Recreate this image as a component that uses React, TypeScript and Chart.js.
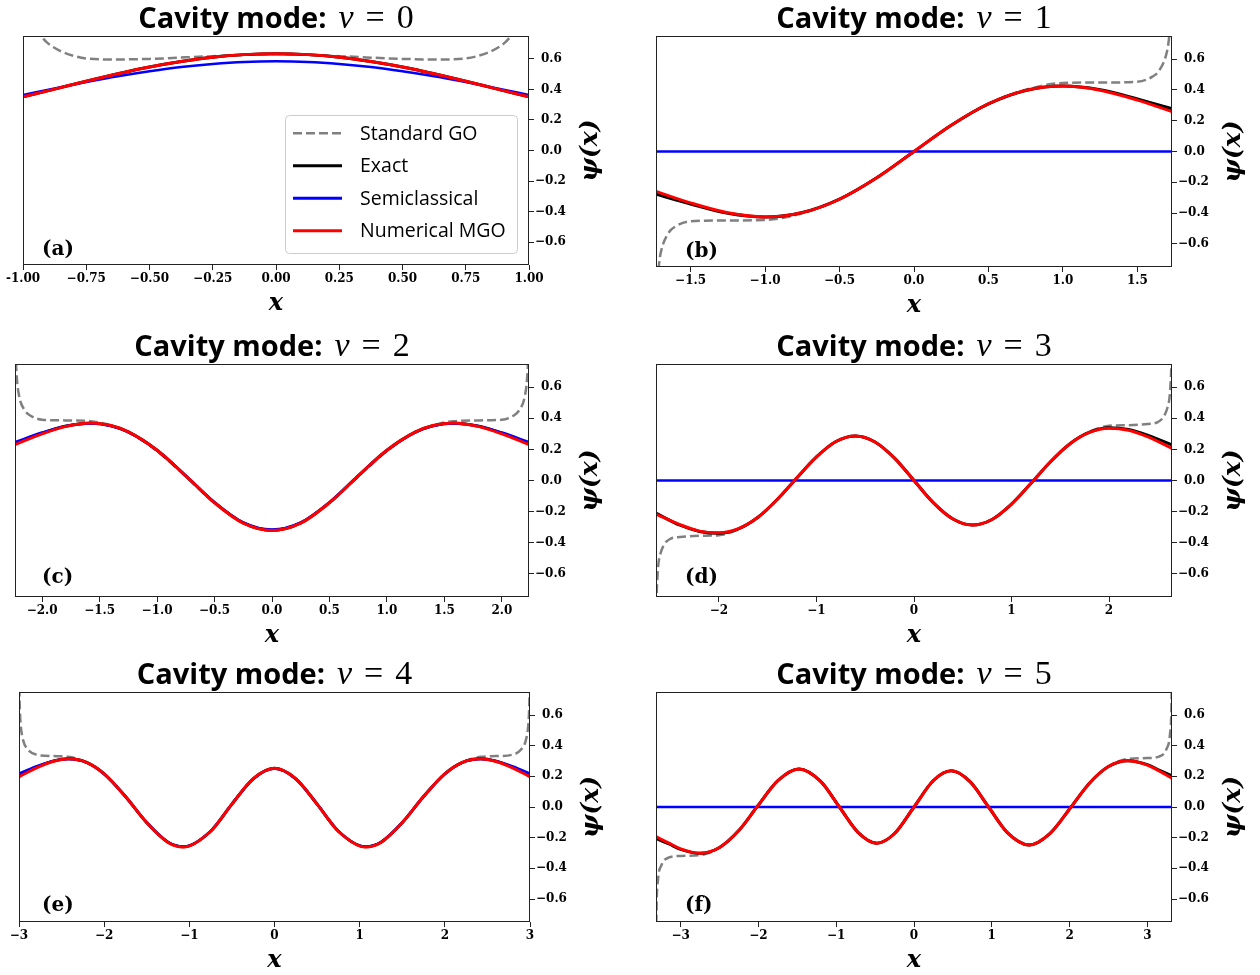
import React, { useEffect, useRef } from "react";
import { Chart, registerables } from "chart.js";

Chart.register(...registerables);

// ---------- Series labels / colours ----------
const SERIES_LABELS = ["Standard GO", "Exact", "Semiclassical", "Numerical MGO"];
const SERIES_COLORS = ["#808080", "#000000", "#0000ff", "#ff0000"];

// ---------- Shared y ticks ----------
const Y_TICKS = [-0.6, -0.4, -0.2, 0, 0.2, 0.4, 0.6];
const Y_TICK_LABELS = ["−0.6", "−0.4", "−0.2", "\u20020.0", "\u20020.2", "\u20020.4", "\u20020.6"];

// ---------- Panel (a): nu = 0 ----------
const A_XTICKS = [-1, -0.75, -0.5, -0.25, 0, 0.25, 0.5, 0.75, 1];
const A_XTICK_LABELS = ["-1.00", "−0.75", "−0.50", "−0.25", "0.00", "0.25", "0.50", "0.75", "1.00"];
const A_X = [-1, -0.875, -0.75, -0.625, -0.5, -0.375, -0.25, -0.125, 0, 0.125, 0.25, 0.375, 0.5, 0.625, 0.75, 0.875, 1];
const A_EXACT = [0.351, 0.402, 0.454, 0.503, 0.547, 0.583, 0.611, 0.628, 0.634, 0.628, 0.611, 0.583, 0.547, 0.503, 0.454, 0.402, 0.351];
const A_SEMI = [0.364, 0.407, 0.448, 0.486, 0.519, 0.547, 0.567, 0.580, 0.584, 0.580, 0.567, 0.547, 0.519, 0.486, 0.448, 0.407, 0.364];
const A_MGO = [0.351, 0.402, 0.454, 0.503, 0.547, 0.583, 0.611, 0.628, 0.634, 0.628, 0.611, 0.583, 0.547, 0.503, 0.454, 0.402, 0.351];
const A_GO_X = [-0.94, -0.935, -0.93, -0.92, -0.9, -0.85, -0.8, -0.75, -0.65, -0.5, -0.25, 0, 0.25, 0.5, 0.65, 0.75, 0.8, 0.85, 0.9, 0.92, 0.93, 0.935, 0.94];
const A_GO = [0.81, 0.78, 0.755, 0.733, 0.70, 0.65, 0.62, 0.603, 0.596, 0.600, 0.618, 0.632, 0.618, 0.600, 0.596, 0.603, 0.62, 0.65, 0.70, 0.733, 0.755, 0.78, 0.81];

// ---------- Panel (b): nu = 1 ----------
const B_XTICKS = [-1.5, -1, -0.5, 0, 0.5, 1, 1.5];
const B_XTICK_LABELS = ["−1.5", "−1.0", "−0.5", "0.0", "0.5", "1.0", "1.5"];
const B_X = [-1.732, -1.5, -1.25, -1, -0.75, -0.5, -0.25, 0, 0.25, 0.5, 0.75, 1, 1.25, 1.5, 1.732];
const B_EXACT = [-0.277, -0.341, -0.401, -0.425, -0.396, -0.309, -0.170, 0, 0.170, 0.309, 0.396, 0.425, 0.401, 0.341, 0.277];
const B_SEMI = [0, 0, 0, 0, 0, 0, 0, 0, 0, 0, 0, 0, 0, 0, 0];
const B_MGO = [-0.259, -0.334, -0.398, -0.425, -0.397, -0.310, -0.171, 0, 0.171, 0.310, 0.397, 0.425, 0.398, 0.334, 0.259];
const B_GO_X = [-1.7155, -1.71, -1.7, -1.65, -1.6, -1.5, -1.25, -1, -0.75, -0.5, -0.25, 0, 0.25, 0.5, 0.75, 1, 1.25, 1.5, 1.6, 1.65, 1.7, 1.71, 1.7155];
const B_GO = [-0.77, -0.718, -0.656, -0.531, -0.486, -0.453, -0.448, -0.445, -0.401, -0.309, -0.170, 0, 0.170, 0.309, 0.401, 0.445, 0.448, 0.453, 0.486, 0.531, 0.656, 0.718, 0.77];

// ---------- Panel (c): nu = 2 ----------
const C_XTICKS = [-2, -1.5, -1, -0.5, 0, 0.5, 1, 1.5, 2];
const C_XTICK_LABELS = ["−2.0", "−1.5", "−1.0", "−0.5", "0.0", "0.5", "1.0", "1.5", "2.0"];
const C_X = [-2.236, -2, -1.8, -1.58, -1.4, -1.25, -1, -0.75, -0.5, -0.25, 0, 0.25, 0.5, 0.75, 1, 1.25, 1.4, 1.58, 1.8, 2, 2.236];
const C_EXACT = [0.238, 0.305, 0.349, 0.369, 0.353, 0.313, 0.195, 0.030, -0.142, -0.273, -0.320, -0.273, -0.142, 0.030, 0.195, 0.313, 0.353, 0.369, 0.349, 0.305, 0.238];
const C_SEMI = [0.247, 0.309, 0.350, 0.367, 0.351, 0.311, 0.194, 0.031, -0.140, -0.270, -0.316, -0.270, -0.140, 0.031, 0.194, 0.311, 0.351, 0.367, 0.350, 0.309, 0.247];
const C_MGO = [0.231, 0.300, 0.347, 0.370, 0.354, 0.313, 0.195, 0.030, -0.143, -0.275, -0.322, -0.275, -0.143, 0.030, 0.195, 0.313, 0.354, 0.370, 0.347, 0.300, 0.231];
const C_GO_X = [-2.232, -2.228, -2.22, -2.2, -2.15, -2.1, -2, -1.8, -1.58, -1.25, -1, -0.75, -0.5, -0.25, 0, 0.25, 0.5, 0.75, 1, 1.25, 1.58, 1.8, 2, 2.1, 2.15, 2.2, 2.22, 2.228, 2.232];
const C_GO = [0.93, 0.785, 0.662, 0.544, 0.451, 0.417, 0.391, 0.387, 0.382, 0.310, 0.189, 0.025, -0.1455, -0.274, -0.322, -0.274, -0.1455, 0.025, 0.189, 0.310, 0.382, 0.387, 0.391, 0.417, 0.451, 0.544, 0.662, 0.785, 0.93];

// ---------- Panel (d): nu = 3 ----------
const D_XTICKS = [-2, -1, 0, 1, 2];
const D_XTICK_LABELS = ["−2", "−1", "0", "1", "2"];
const D_X = [-2.646, -2.4, -2.2, -2, -1.8, -1.6, -1.4, -1.2, -1, -0.8, -0.6, -0.4, -0.2, 0, 0.2, 0.4, 0.6, 0.8, 1, 1.2, 1.4, 1.6, 1.8, 2, 2.2, 2.4, 2.646];
const D_EXACT = [-0.210, -0.288, -0.328, -0.340, -0.311, -0.237, -0.121, 0.018, 0.152, 0.251, 0.287, 0.248, 0.144, 0, -0.144, -0.248, -0.287, -0.251, -0.152, -0.018, 0.121, 0.237, 0.311, 0.340, 0.328, 0.290, 0.229];
const D_SEMI = [0, 0, 0, 0, 0, 0, 0, 0, 0, 0, 0, 0, 0, 0, 0, 0, 0, 0, 0, 0, 0, 0, 0, 0, 0, 0, 0];
const D_MGO = [-0.216, -0.284, -0.326, -0.337, -0.310, -0.237, -0.121, 0.018, 0.152, 0.251, 0.287, 0.248, 0.144, 0, -0.144, -0.248, -0.287, -0.251, -0.152, -0.018, 0.121, 0.237, 0.310, 0.337, 0.324, 0.281, 0.207];
const D_GO_X = [-2.644, -2.64, -2.63, -2.62, -2.6, -2.56, -2.5, -2.4, -2.2, -2, -1.8, -1.6, -1.4, -1.2, -1, -0.8, -0.6, -0.4, -0.2, 0, 0.2, 0.4, 0.6, 0.8, 1, 1.2, 1.4, 1.6, 1.8, 2, 2.2, 2.4, 2.5, 2.56, 2.6, 2.62, 2.63, 2.64, 2.644];
const D_GO = [-1.06, -0.79, -0.61, -0.53, -0.47, -0.41, -0.376, -0.364, -0.356, -0.352, -0.314, -0.237, -0.121, 0.018, 0.152, 0.251, 0.287, 0.248, 0.144, 0, -0.144, -0.248, -0.287, -0.251, -0.152, -0.018, 0.121, 0.237, 0.314, 0.352, 0.356, 0.364, 0.376, 0.41, 0.47, 0.53, 0.61, 0.79, 1.06];

// ---------- Panel (e): nu = 4 ----------
const E_XTICKS = [-3, -2, -1, 0, 1, 2, 3];
const E_XTICK_LABELS = ["−3", "−2", "−1", "0", "1", "2", "3"];
const E_X = [-3, -2.8, -2.6, -2.42, -2.2, -2, -1.75, -1.5, -1.25, -1.07, -0.75, -0.5, -0.25, 0, 0.25, 0.5, 0.75, 1.07, 1.25, 1.5, 1.75, 2, 2.2, 2.42, 2.6, 2.8, 3];
const E_EXACT = [0.204, 0.258, 0.299, 0.314, 0.289, 0.216, 0.068, -0.102, -0.230, -0.260, -0.158, 0.019, 0.184, 0.252, 0.184, 0.019, -0.158, -0.260, -0.230, -0.102, 0.068, 0.216, 0.289, 0.314, 0.299, 0.258, 0.204];
const E_SEMI = [0.217, 0.264, 0.301, 0.313, 0.288, 0.215, 0.068, -0.101, -0.229, -0.259, -0.157, 0.019, 0.183, 0.251, 0.183, 0.019, -0.157, -0.259, -0.229, -0.101, 0.068, 0.215, 0.288, 0.313, 0.301, 0.264, 0.217];
const E_MGO = [0.197, 0.254, 0.297, 0.315, 0.290, 0.216, 0.068, -0.102, -0.231, -0.261, -0.158, 0.019, 0.185, 0.253, 0.185, 0.019, -0.158, -0.261, -0.231, -0.102, 0.068, 0.216, 0.290, 0.315, 0.297, 0.254, 0.197];
const E_GO_X = [-2.998, -2.995, -2.99, -2.98, -2.95, -2.9, -2.8, -2.6, -2.42, -2.2, -2, -1.75, -1.5, -1.25, -1.07, -0.75, -0.5, -0.25, 0, 0.25, 0.5, 0.75, 1.07, 1.25, 1.5, 1.75, 2, 2.2, 2.42, 2.6, 2.8, 2.9, 2.95, 2.98, 2.99, 2.995, 2.998];
const E_GO = [0.95, 0.755, 0.635, 0.536, 0.433, 0.378, 0.342, 0.332, 0.327, 0.289, 0.216, 0.068, -0.102, -0.230, -0.260, -0.158, 0.019, 0.184, 0.252, 0.184, 0.019, -0.158, -0.260, -0.230, -0.102, 0.068, 0.216, 0.289, 0.327, 0.332, 0.342, 0.378, 0.433, 0.536, 0.635, 0.755, 0.95];

// ---------- Panel (f): nu = 5 ----------
const F_XTICKS = [-3, -2, -1, 0, 1, 2, 3];
const F_XTICK_LABELS = ["−3", "−2", "−1", "0", "1", "2", "3"];
const F_X = [-3.317, -3.15, -3, -2.75, -2.5, -2.25, -2.02, -1.75, -1.48, -1.2, -0.959, -0.72, -0.48, -0.25, 0, 0.25, 0.48, 0.72, 0.959, 1.2, 1.48, 1.75, 2.02, 2.25, 2.5, 2.75, 3, 3.15, 3.317];
const F_EXACT = [-0.205, -0.241, -0.276, -0.302, -0.264, -0.152, 0, 0.172, 0.248, 0.167, 0, -0.165, -0.236, -0.173, 0, 0.173, 0.236, 0.165, 0, -0.167, -0.248, -0.172, 0, 0.152, 0.264, 0.302, 0.276, 0.241, 0.203];
const F_SEMI = [0, 0, 0, 0, 0, 0, 0, 0, 0, 0, 0, 0, 0, 0, 0, 0, 0, 0, 0, 0, 0, 0, 0, 0, 0, 0, 0, 0, 0];
const F_MGO = [-0.193, -0.236, -0.273, -0.301, -0.264, -0.152, 0, 0.172, 0.248, 0.167, 0, -0.165, -0.236, -0.173, 0, 0.173, 0.236, 0.165, 0, -0.167, -0.248, -0.172, 0, 0.152, 0.264, 0.301, 0.273, 0.236, 0.188];
const F_GO_X = [-3.316, -3.314, -3.31, -3.29, -3.25, -3.15, -3, -2.75, -2.5, -2.25, -2.02, -1.75, -1.48, -1.2, -0.959, -0.72, -0.48, -0.25, 0, 0.25, 0.48, 0.72, 0.959, 1.2, 1.48, 1.75, 2.02, 2.25, 2.5, 2.75, 3, 3.15, 3.25, 3.29, 3.31, 3.314, 3.316];
const F_GO = [-1.1, -0.83, -0.66, -0.47, -0.383, -0.329, -0.319, -0.3135, -0.264, -0.152, 0, 0.172, 0.248, 0.167, 0, -0.165, -0.236, -0.173, 0, 0.173, 0.236, 0.165, 0, -0.167, -0.248, -0.172, 0, 0.152, 0.264, 0.3135, 0.319, 0.329, 0.383, 0.47, 0.66, 0.83, 1.1];

// ---------- Layout ----------
const PAD_L = 30;
const PAD_T = 40;
const RIGHT_W = 84;
const BOTTOM_H = 52;

type PanelSpec = {
  nu: number;
  tag: string;
  L: number; R: number; T: number; B: number;
  tagDX: number; tagDY: number;
  xMin: number; xMax: number;
  xTicks: number[]; xTickLabels: string[];
  x: number[]; exact: number[]; semi: number[]; mgo: number[];
  goX: number[]; go: number[];
  legend: boolean;
};

const PANELS: PanelSpec[] = [
  { nu: 0, tag: "(a)", L: 23, R: 529, T: 36, B: 265, tagDX: 19, tagDY: 15, xMin: -1, xMax: 1, xTicks: A_XTICKS, xTickLabels: A_XTICK_LABELS, x: A_X, exact: A_EXACT, semi: A_SEMI, mgo: A_MGO, goX: A_GO_X, go: A_GO, legend: true },
  { nu: 1, tag: "(b)", L: 656, R: 1172, T: 36, B: 267, tagDX: 29, tagDY: 15, xMin: -1.732, xMax: 1.732, xTicks: B_XTICKS, xTickLabels: B_XTICK_LABELS, x: B_X, exact: B_EXACT, semi: B_SEMI, mgo: B_MGO, goX: B_GO_X, go: B_GO, legend: false },
  { nu: 2, tag: "(c)", L: 15, R: 529, T: 364, B: 597, tagDX: 27, tagDY: 19, xMin: -2.236, xMax: 2.236, xTicks: C_XTICKS, xTickLabels: C_XTICK_LABELS, x: C_X, exact: C_EXACT, semi: C_SEMI, mgo: C_MGO, goX: C_GO_X, go: C_GO, legend: false },
  { nu: 3, tag: "(d)", L: 656, R: 1172, T: 364, B: 597, tagDX: 29, tagDY: 19, xMin: -2.646, xMax: 2.646, xTicks: D_XTICKS, xTickLabels: D_XTICK_LABELS, x: D_X, exact: D_EXACT, semi: D_SEMI, mgo: D_MGO, goX: D_GO_X, go: D_GO, legend: false },
  { nu: 4, tag: "(e)", L: 19, R: 530, T: 692, B: 922, tagDX: 23, tagDY: 16, xMin: -3, xMax: 3, xTicks: E_XTICKS, xTickLabels: E_XTICK_LABELS, x: E_X, exact: E_EXACT, semi: E_SEMI, mgo: E_MGO, goX: E_GO_X, go: E_GO, legend: false },
  { nu: 5, tag: "(f)", L: 656, R: 1172, T: 692, B: 922, tagDX: 29, tagDY: 16, xMin: -3.317, xMax: 3.317, xTicks: F_XTICKS, xTickLabels: F_XTICK_LABELS, x: F_X, exact: F_EXACT, semi: F_SEMI, mgo: F_MGO, goX: F_GO_X, go: F_GO, legend: false },
];

const TICK_FONT = { family: "'DejaVu Serif', serif", size: 12, weight: "bold" as const };

function pts(xs: number[], ys: number[]) {
  return xs.map((x, i) => ({ x, y: ys[i] }));
}

function labelFor(ticks: number[], labels: string[], v: number) {
  const i = ticks.findIndex((t) => Math.abs(t - v) < 1e-9);
  return i >= 0 ? labels[i] : "";
}

function Panel({ spec }: { spec: PanelSpec }) {
  const ref = useRef<HTMLCanvasElement | null>(null);
  const W = PAD_L + (spec.R - spec.L) + RIGHT_W;
  const H = PAD_T + (spec.B - spec.T) + BOTTOM_H;

  useEffect(() => {
    if (!ref.current) return;

    const extras = {
      id: "extras",
      afterDraw(chart: any) {
        const { ctx, chartArea: ca } = chart;
        ctx.save();
        // frame
        ctx.strokeStyle = "#222222";
        ctx.lineWidth = 1;
        ctx.setLineDash([]);
        ctx.strokeRect(ca.left + 0.5, ca.top + 0.5, ca.right - ca.left - 1, ca.bottom - ca.top - 1);

        // title (mixed fonts)
        const pieces = [
          { t: "Cavity mode:", f: "bold 29px 'Open Sans'", g: 12 },
          { t: "ν", f: "italic 34px 'Liberation Serif'", g: 12 },
          { t: "=", f: "34px 'Liberation Serif'", g: 12 },
          { t: String(spec.nu), f: "34px 'Liberation Serif'", g: 0 },
        ];
        let total = 0;
        for (const p of pieces) {
          ctx.font = p.f;
          total += ctx.measureText(p.t).width + p.g;
        }
        let tx = (ca.left + ca.right) / 2 - total / 2;
        ctx.fillStyle = "#000";
        ctx.textAlign = "left";
        ctx.textBaseline = "alphabetic";
        for (const p of pieces) {
          ctx.font = p.f;
          ctx.fillText(p.t, tx, ca.top - 8);
          tx += ctx.measureText(p.t).width + p.g;
        }

        // x axis label
        ctx.font = "bold italic 24px 'DejaVu Serif'";
        ctx.textAlign = "center";
        ctx.fillText("x", (ca.left + ca.right) / 2, ca.bottom + 45);

        // y axis label (rotated, reads bottom to top)
        ctx.save();
        ctx.translate(ca.right + 61, (ca.top + ca.bottom) / 2);
        ctx.rotate(-Math.PI / 2);
        ctx.font = "bold italic 25px 'DejaVu Serif'";
        ctx.textAlign = "center";
        ctx.textBaseline = "middle";
        ctx.fillText("ψ(x)", 0, 0);
        ctx.restore();

        // panel tag
        ctx.font = "bold 20px 'DejaVu Serif'";
        ctx.textAlign = "left";
        ctx.textBaseline = "middle";
        ctx.fillText(spec.tag, ca.left + spec.tagDX, ca.bottom - spec.tagDY);

        // legend
        if (spec.legend) {
          const lx = ca.left + 262;
          const ly = ca.top + 79;
          ctx.beginPath();
          (ctx as any).roundRect(lx + 0.5, ly + 0.5, 232, 138, 4);
          ctx.fillStyle = "rgba(255,255,255,0.8)";
          ctx.fill();
          ctx.strokeStyle = "#cccccc";
          ctx.lineWidth = 1;
          ctx.stroke();
          for (let i = 0; i < SERIES_LABELS.length; i++) {
            const cy = ca.top + 97.3 + i * 32.5;
            ctx.beginPath();
            ctx.strokeStyle = SERIES_COLORS[i];
            ctx.lineWidth = i === 0 ? 2.5 : 3;
            ctx.setLineDash(i === 0 ? [9, 4] : []);
            ctx.moveTo(ca.left + 270, cy);
            ctx.lineTo(ca.left + 319, cy);
            ctx.stroke();
            ctx.setLineDash([]);
            ctx.fillStyle = "#000";
            ctx.font = "19.5px 'Open Sans'";
            ctx.textAlign = "left";
            ctx.textBaseline = "middle";
            ctx.fillText(SERIES_LABELS[i], ca.left + 337, cy + 1);
          }
        }
        ctx.restore();
      },
    };

    const common = { pointRadius: 0, pointHoverRadius: 0, fill: false, cubicInterpolationMode: "monotone" as const, clip: 0 };

    const chart = new Chart(ref.current, {
      type: "line",
      data: {
        datasets: [
          { ...common, label: SERIES_LABELS[0], data: pts(spec.goX, spec.go), borderColor: SERIES_COLORS[0], borderWidth: 2.5, borderDash: [9, 4], order: 3 },
          { ...common, label: SERIES_LABELS[1], data: pts(spec.x, spec.exact), borderColor: SERIES_COLORS[1], borderWidth: 3, order: 2 },
          { ...common, label: SERIES_LABELS[2], data: pts(spec.x, spec.semi), borderColor: SERIES_COLORS[2], borderWidth: 2.5, order: 1 },
          { ...common, label: SERIES_LABELS[3], data: pts(spec.x, spec.mgo), borderColor: SERIES_COLORS[3], borderWidth: 3, order: 0 },
        ] as any,
      },
      options: {
        animation: false,
        responsive: false,
        maintainAspectRatio: false,
        devicePixelRatio: 1,
        events: [],
        layout: { padding: { left: PAD_L, top: PAD_T, right: 0, bottom: 0 } },
        plugins: {
          legend: { display: false },
          tooltip: { enabled: false },
          title: { display: false },
        },
        scales: {
          x: {
            type: "linear",
            position: "bottom",
            min: spec.xMin,
            max: spec.xMax,
            afterBuildTicks: (s: any) => {
              s.ticks = spec.xTicks.map((v) => ({ value: v }));
            },
            afterFit: (s: any) => {
              s.height = BOTTOM_H;
            },
            ticks: {
              autoSkip: false,
              maxRotation: 0,
              minRotation: 0,
              padding: 2,
              color: "#000",
              font: TICK_FONT,
              callback: (v: any) => labelFor(spec.xTicks, spec.xTickLabels, Number(v)),
            },
            grid: { display: true, drawOnChartArea: false, drawTicks: true, tickLength: 5, color: "#222222", lineWidth: 1 },
            border: { display: false },
          },
          y: {
            type: "linear",
            position: "right",
            min: -0.75,
            max: 0.75,
            afterBuildTicks: (s: any) => {
              s.ticks = Y_TICKS.map((v) => ({ value: v }));
            },
            afterFit: (s: any) => {
              s.width = RIGHT_W;
            },
            ticks: {
              autoSkip: false,
              padding: 1,
              color: "#000",
              font: TICK_FONT,
              callback: (v: any) => labelFor(Y_TICKS, Y_TICK_LABELS, Number(v)),
            },
            grid: { display: true, drawOnChartArea: false, drawTicks: true, tickLength: 5, color: "#222222", lineWidth: 1 },
            border: { display: false },
          },
        },
      } as any,
      plugins: [extras],
    });
    return () => chart.destroy();
  }, [spec]);

  return (
    <canvas
      ref={ref}
      width={W}
      height={H}
      style={{ position: "absolute", left: spec.L - PAD_L, top: spec.T - PAD_T, width: W, height: H }}
    />
  );
}

export default function App() {
  return (
    <div style={{ position: "absolute", left: 0, top: 0, width: 1260, height: 975, overflow: "hidden", background: "#fff" }}>
      {PANELS.map((p) => (
        <Panel key={p.tag} spec={p} />
      ))}
    </div>
  );
}
